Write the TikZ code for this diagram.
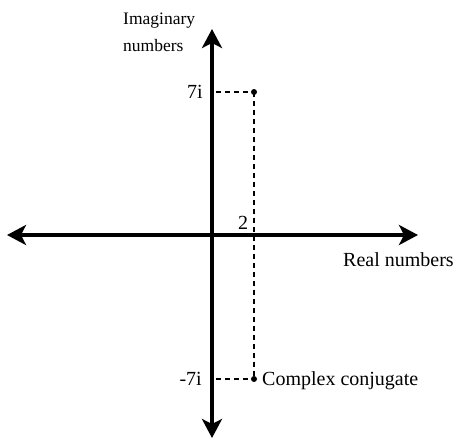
\documentclass[tikz,border=0pt]{standalone}
\usepackage{fontspec}
\setmainfont{Liberation Serif}
\usetikzlibrary{arrows.meta}
\begin{document}
\begin{tikzpicture}[x=1pt,y=-1pt,
  axis/.style={line width=4pt,{Stealth[length=19pt,width=20pt,inset=5pt]}-{Stealth[length=19pt,width=20pt,inset=5pt]}},
  guide/.style={line width=1.7pt,dash pattern=on 5pt off 4pt},
  lbl/.style={inner sep=0pt,font=\fontsize{20}{24}\selectfont},
  toplbl/.style={inner sep=0pt,align=left,font=\fontsize{17.5}{27}\selectfont},
  pt/.style={circle,fill=black,inner sep=0pt,minimum size=6pt}]
\useasboundingbox (0,0) rectangle (459,439);
\coordinate (top) at (212,29);
\coordinate (bot) at (212,438);
\coordinate (left) at (7,235);
\coordinate (right) at (418,235);
\coordinate (ya) at (216,92);
\coordinate (yb) at (216,379);
\node[pt] (P) at (254,92) {};
\node[pt] (Q) at (254,379) {};
\draw[guide] (ya) -- (P.center);
\draw[guide] (yb) -- (Q.center);
\draw[guide] (P.center) -- (Q.center);
\draw[axis] (bot) -- (top);
\draw[axis] (left) -- (right);
\node[lbl,anchor=base east] (l7) at (203,98) {7i};
\node[lbl,anchor=base east] (lm7) at (202,385) {-7i};
\node[lbl,anchor=base] (l2) at (243,229) {2};
\node[lbl,anchor=base west] (real) at (343,266) {Real numbers};
\node[lbl,anchor=base west] (conj) at (262,385) {Complex conjugate};
\node[toplbl,anchor=north west] (imag) at (123,13) {Imaginary\\numbers};
\end{tikzpicture}
\end{document}
